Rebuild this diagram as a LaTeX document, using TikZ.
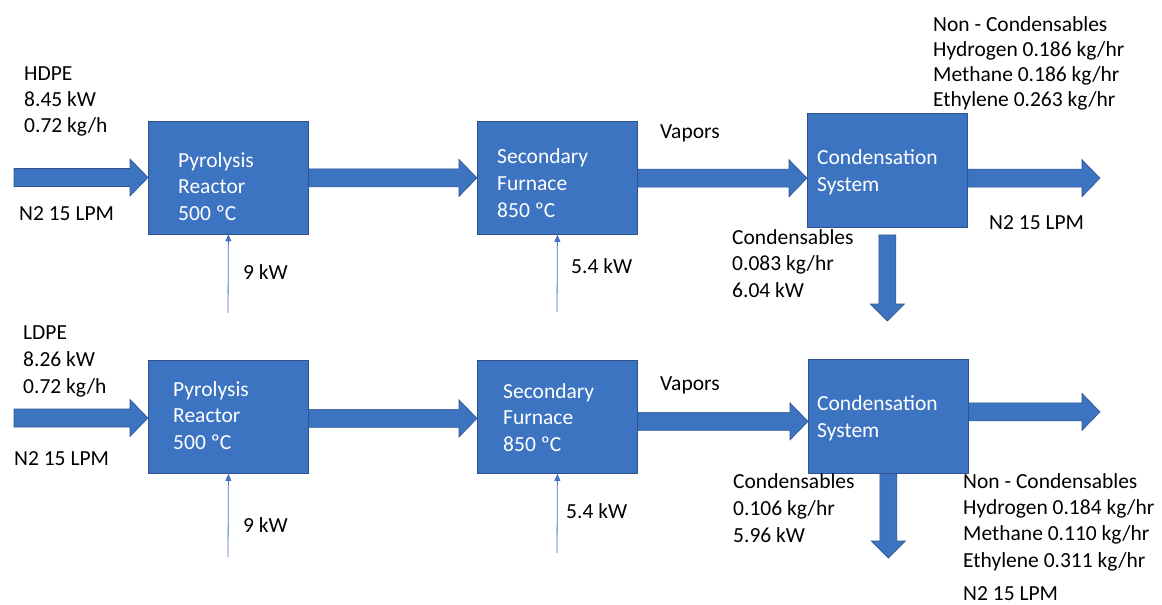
\documentclass[tikz,border=0pt]{standalone}
\usepackage{fontspec}
\setmainfont{Carlito}
\usetikzlibrary{calc,arrows.meta}
\definecolor{boxblue}{HTML}{3D74C1}
\definecolor{boxedge}{HTML}{2F528F}
\definecolor{heatblue}{HTML}{4472C4}
\newcommand\blockR[2]{%
  \path[blockarrow] let \p1=(#1), \p2=(#2) in
    (\x1,\y1+9pt) -- (\x2-18pt,\y1+9pt) -- (\x2-18pt,\y1+18.5pt) -- (\x2,\y1)
    -- (\x2-18pt,\y1-18.5pt) -- (\x2-18pt,\y1-9pt) -- (\x1,\y1-9pt) -- cycle;}
\newcommand\blockD[2]{%
  \path[blockarrow] let \p1=(#1), \p2=(#2) in
    (\x1-8.5pt,\y1) -- (\x1-8.5pt,\y2+17pt) -- (\x1-17pt,\y2+17pt) -- (\x1,\y2)
    -- (\x1+17pt,\y2+17pt) -- (\x1+8.5pt,\y2+17pt) -- (\x1+8.5pt,\y1) -- cycle;}
\tikzset{
  procbox/.style={draw=boxedge, fill=boxblue, line width=0.8pt, inner sep=0pt,
    minimum width=160pt, minimum height=113pt, anchor=north west},
  blockarrow/.style={draw=boxedge, fill=boxblue, line width=0.6pt, line join=miter},
  heat/.style={draw=heatblue, line width=0.8pt, -{Triangle[length=7pt,width=6pt]}},
  lbl/.style={font=\fontsize{21.5}{26}\selectfont, inner sep=0pt, anchor=base west, align=left, text=black},
  boxtxt/.style={font=\fontsize{21.5}{26.5}\selectfont, inner sep=0pt, anchor=base west, align=left, text=white},
}
\begin{document}
\begin{tikzpicture}[x=1pt,y=-1pt]
\useasboundingbox (0,0) rectangle (1162,605);
% ---------- top row ----------
\node[procbox] (p1) at (148,120.5) {};
\node[procbox, minimum height=113.5pt] (f1) at (477,120.5) {};
\node[procbox, minimum height=114pt] (c1) at (807,113) {};
\coordinate (in1) at (14,177.5);
\coordinate (out1) at (1100,177.5);
\coordinate (d1) at (887,321);
\coordinate (h1) at (228,313);
\coordinate (h2) at (557,312);
\blockR{in1}{p1.west}
\blockR{$(p1.east)+(0,0.5)$}{f1.west}
\blockR{$(f1.east)+(0,0.5)$}{c1.west}
\blockR{$(c1.east |- f1.east)+(0,0.5)$}{out1}
\blockD{$(c1.south)+(0,7)$}{d1}
\draw[heat] (h1) -- (p1.south);
\draw[heat] (h2) -- (f1.south);
% anchors below are at the baseline of the LAST line of each block
\node[boxtxt] (t1) at (178,220) {Pyrolysis\\Reactor\\500 ºC};
\node[boxtxt, font=\fontsize{21.5}{27}\selectfont] (t2) at (497,217) {Secondary\\Furnace\\850 ºC};
\node[boxtxt, font=\fontsize{21.5}{27.5}\selectfont] (t3) at (817,191.5) {Condensation\\System};
\node[lbl] (l1) at (24,132) {HDPE\\8.45 kW\\0.72 kg/h};
\node[lbl] (l2) at (19,220) {N2 15 LPM};
\node[lbl] (l3) at (243,279) {9 kW};
\node[lbl] (l4) at (571,273) {5.4 kW};
\node[lbl] (l5) at (660,138) {Vapors};
\node[lbl, font=\fontsize{21.5}{25}\selectfont] (l6) at (933,106.5) {Non - Condensables\\Hydrogen 0.186 kg/hr\\Methane 0.186 kg/hr\\Ethylene 0.263 kg/hr};
\node[lbl] (l7) at (989,229) {N2 15 LPM};
\node[lbl, font=\fontsize{21.5}{26.5}\selectfont] (l8) at (732,297) {Condensables\\0.083 kg/hr\\6.04 kW};
% ---------- bottom row ----------
\node[procbox] (p2) at (148,360) {};
\node[procbox] (f2) at (477,360) {};
\node[procbox, minimum height=114pt] (c2) at (808,359) {};
\coordinate (in2) at (14,418);
\coordinate (out2) at (1100,412);
\coordinate (d2) at (887,558);
\coordinate (h3) at (228,557);
\coordinate (h4) at (557,553);
\blockR{in2}{p2.west}
\blockR{$(p2.east)+(0,1.5)$}{f2.west}
\blockR{$(f2.east)+(0,4.5)$}{c2.west}
\blockR{$(c2.east)+(0,-4.5)$}{out2}
\blockD{c2.south}{d2}
\draw[heat] (h3) -- (p2.south);
\draw[heat] (h4) -- (f2.south);
\node[boxtxt] (t4) at (173,449) {Pyrolysis\\Reactor\\500 ºC};
\node[boxtxt] (t5) at (503,451) {Secondary\\Furnace\\850 ºC};
\node[boxtxt, font=\fontsize{21.5}{27}\selectfont] (t6) at (817,437) {Condensation\\System};
\node[lbl, font=\fontsize{21.5}{27}\selectfont] (m1) at (23,393) {LDPE\\8.26 kW\\0.72 kg/h};
\node[lbl] (m2) at (14,465) {N2 15 LPM};
\node[lbl] (m3) at (243,532) {9 kW};
\node[lbl] (m4) at (566,518) {5.4 kW};
\node[lbl] (m5) at (660,390) {Vapors};
\node[lbl, font=\fontsize{21.5}{27}\selectfont] (m6) at (733,542) {Condensables\\0.106 kg/hr\\5.96 kW};
\node[lbl, font=\fontsize{21.5}{26.3}\selectfont] (m7) at (963,567) {Non - Condensables\\Hydrogen 0.184 kg/hr\\Methane 0.110 kg/hr\\Ethylene 0.311 kg/hr};
\node[lbl] (m8) at (963,600) {N2 15 LPM};
\end{tikzpicture}
\end{document}
